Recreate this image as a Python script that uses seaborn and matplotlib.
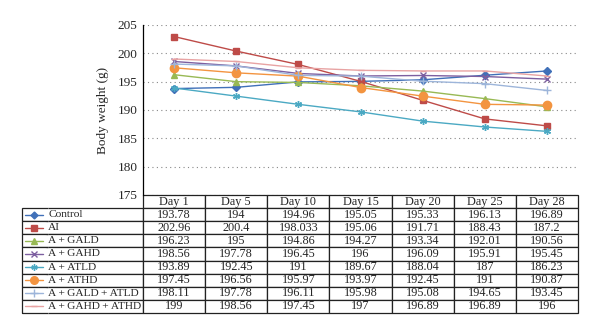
import matplotlib
matplotlib.use("Agg")
import matplotlib.pyplot as plt
import seaborn as sns
import pandas as pd

days = ["Day 1", "Day 5", "Day 10", "Day 15", "Day 20", "Day 25", "Day 28"]
groups = ["Control", "AI", "A\u2009+\u2009GALD", "A\u2009+\u2009GAHD",
          "A\u2009+\u2009ATLD", "A\u2009+\u2009ATHD",
          "A\u2009+\u2009GALD\u2009+\u2009ATLD",
          "A\u2009+\u2009GAHD\u2009+\u2009ATHD"]
control = [193.78, 194, 194.96, 195.05, 195.33, 196.13, 196.89]
ai = [202.96, 200.4, 198.033, 195.06, 191.71, 188.43, 187.2]
gald = [196.23, 195, 194.86, 194.27, 193.34, 192.01, 190.56]
gahd = [198.56, 197.78, 196.45, 196, 196.09, 195.91, 195.45]
atld = [193.89, 192.45, 191, 189.67, 188.04, 187, 186.23]
athd = [197.45, 196.56, 195.97, 193.97, 192.45, 191, 190.87]
gald_atld = [198.11, 197.78, 196.11, 195.98, 195.08, 194.65, 193.45]
gahd_athd = [199, 198.56, 197.45, 197, 196.89, 196.89, 196]
series = [control, ai, gald, gahd, atld, athd, gald_atld, gahd_athd]

colors = ["#4070B8", "#BE4B48", "#98B954", "#7D5FA0", "#4BA9C3", "#F39440",
          "#9DB5DA", "#E8A3A3"]
markers = ["D", "s", "^", "x", (6, 2, 0), "o", "+", "_"]
msizes = [4, 5, 5, 5, 5, 6, 6, 5]

df = pd.DataFrame(
    [(g, d, v) for g, vals in zip(groups, series) for d, v in zip(days, vals)],
    columns=["Group", "Day", "Weight"],
)

sns.set_style("white")
plt.rcParams["font.family"] = ["Liberation Serif", "DejaVu Serif"]

fig = plt.figure(figsize=(6, 3.35), dpi=100)
ax = fig.add_axes([143 / 600, 1 - 195 / 335, 435 / 600, 170 / 335])

for g, c, m, ms in zip(groups, colors, markers, msizes):
    sub = df[df["Group"] == g]
    sns.lineplot(data=sub, x="Day", y="Weight", ax=ax, color=c, marker=m,
                 markersize=ms, linewidth=1, markeredgecolor=c,
                 markeredgewidth=1.0, legend=False, sort=False)

ax.set_xlim(-0.5, len(days) - 0.5)
ax.set_ylim(175, 205)
ax.set_yticks(range(175, 206, 5))
ax.yaxis.grid(True, linestyle=(0, (1, 3)), color="#888888", linewidth=0.8)
ax.xaxis.grid(False)
ax.set_xticks([])
ax.set_xlabel("")
ax.set_ylabel("Body weight (g)", fontsize=9.5, labelpad=6)
ax.tick_params(axis="y", length=0, pad=4, labelsize=9.5)
for s in ["top", "right", "bottom"]:
    ax.spines[s].set_visible(False)
ax.spines["left"].set_color("black")
ax.spines["left"].set_linewidth(0.9)

# table below the plot
w_mark, w_lab, w_day = 26, 95, 435 / 7
total = w_mark + w_lab + 7 * w_day
cell_text = [["", g] + [f"{v:g}" if not (g == "AI" and i == 2) else "198.033"
                        for i, v in enumerate(vals)]
             for g, vals in zip(groups, series)]
tbl = ax.table(cellText=cell_text, colLabels=["", ""] + days,
               colWidths=[w_mark / total, w_lab / total] + [w_day / total] * 7,
               cellLoc="center",
               bbox=[-(w_mark + w_lab) / 435, -118 / 170, total / 435, 118 / 170])
tbl.auto_set_font_size(False)
tbl.set_fontsize(8.8)
for (r, c), cell in tbl.get_celld().items():
    cell.set_linewidth(0.9)
    cell.set_edgecolor("#222222")
    if r == 0 and c < 2:
        cell.visible_edges = ""
    elif c == 0:
        cell.visible_edges = "BTL"
    elif c == 1:
        cell.visible_edges = "BTR"
        cell.get_text().set_horizontalalignment("left")
        cell.get_text().set_fontsize(8.2)
        cell.PAD = 0.0

# legend glyphs in the table
rh = 118 / 170 / 9
x0, x1 = (25 - 143) / 435, (43 - 143) / 435
for i, (c, m, ms) in enumerate(zip(colors, markers, msizes)):
    y = -(i + 1.5) * rh
    ax.plot([x0, x1], [y, y], color=c, linewidth=1, transform=ax.transAxes,
            clip_on=False)
    ax.plot([(x0 + x1) / 2], [y], color=c, marker=m, markersize=ms - 0.5,
            markeredgecolor=c, transform=ax.transAxes, clip_on=False)

fig.savefig("out.png", dpi=100)
